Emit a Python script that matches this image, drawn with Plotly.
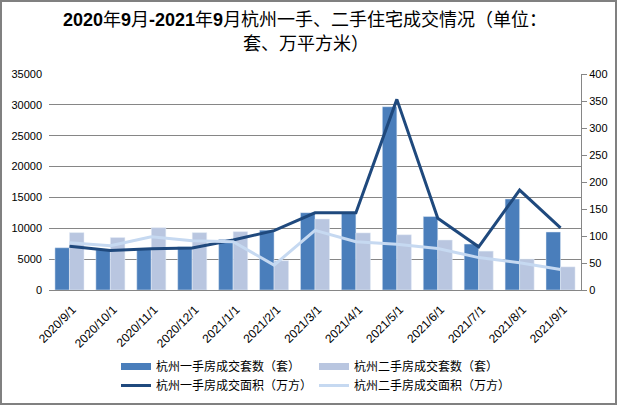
import plotly.graph_objects as go

months = ["2020/9/1", "2020/10/1", "2020/11/1", "2020/12/1", "2021/1/1", "2021/2/1",
          "2021/3/1", "2021/4/1", "2021/5/1", "2021/6/1", "2021/7/1", "2021/8/1", "2021/9/1"]
new_units = [6850, 6500, 6600, 7000, 8200, 9700, 12530, 12600, 29700, 11900, 7450, 14750, 9400]
second_units = [9300, 8500, 10100, 9300, 9450, 4750, 11500, 9250, 8950, 8100, 6300, 5000, 3750]
new_area = [81, 73, 76.5, 78, 92.6, 110, 143, 143, 353, 133, 80, 185, 115]
second_area = [87.6, 82, 98.7, 91, 89.5, 46, 110.5, 89.5, 84.6, 77, 60, 50.6, 38]

names = ["杭州一手房成交套数（套）", "杭州二手房成交套数（套）",
         "杭州一手房成交面积（万方）", "杭州二手房成交面积（万方）"]
title1 = "<b>2020</b>年<b>9</b>月<b>-2021</b>年<b>9</b>月杭州一手、二手住宅成交情况（单位："
title2 = "套、万平方米）"

C_NEW_BAR = "#4A7EBB"
C_SEC_BAR = "#B9C6E0"
C_NEW_LINE = "#1F497D"
C_SEC_LINE = "#C6D9F1"
GRID = "#868686"
FONT = "Liberation Sans, Noto Sans CJK SC, sans-serif"
CJK = "Noto Sans CJK SC, sans-serif"
TITLE_FONT = "Liberation Sans, Noto Sans CJK SC, sans-serif"

W, H = 618, 406
L, R, T, B = 49, 37, 74, 116
pw, ph = W - L - R, H - T - B


def px_x(x):
    return (x - L) / pw


def px_y(y):
    return (H - B - y) / ph


fig = go.Figure()
fig.add_trace(go.Bar(x=months, y=new_units, marker_color=C_NEW_BAR, name=names[0],
                     showlegend=False))
fig.add_trace(go.Bar(x=months, y=second_units, marker_color=C_SEC_BAR, name=names[1],
                     showlegend=False))
fig.add_trace(go.Scatter(x=months, y=new_area, mode="lines", yaxis="y2",
                         line=dict(color=C_NEW_LINE, width=3), name=names[2],
                         showlegend=False))
fig.add_trace(go.Scatter(x=months, y=second_area, mode="lines", yaxis="y2",
                         line=dict(color=C_SEC_LINE, width=3), name=names[3],
                         showlegend=False))

# legend entries (bar swatches drawn as thick short lines like the original)
fig.add_trace(go.Scatter(x=[None], y=[None], mode="lines", name=names[0],
                         line=dict(color=C_NEW_BAR, width=7), legend="legend"))
fig.add_trace(go.Scatter(x=[None], y=[None], mode="lines", name=names[1],
                         line=dict(color=C_SEC_BAR, width=7), legend="legend"))
fig.add_trace(go.Scatter(x=[None], y=[None], mode="lines", name=names[2],
                         line=dict(color=C_NEW_LINE, width=3), legend="legend2"))
fig.add_trace(go.Scatter(x=[None], y=[None], mode="lines", name=names[3],
                         line=dict(color=C_SEC_LINE, width=3), legend="legend2"))

legend_common = dict(orientation="h", xanchor="left", yanchor="middle",
                     font=dict(family=CJK, size=12, color="#000"),
                     entrywidth=153, entrywidthmode="pixels",
                     bgcolor="rgba(0,0,0,0)", tracegroupgap=0)

fig.update_layout(
    width=W, height=H,
    margin=dict(l=L, r=R, t=T, b=B, autoexpand=False),
    paper_bgcolor="white", plot_bgcolor="white",
    barmode="group", bargap=0.29, bargroupgap=0,
    font=dict(family=FONT, size=11, color="#000"),
    xaxis=dict(type="category", tickangle=-45, showgrid=False,
               showline=True, linecolor=GRID, linewidth=1, ticks="",
               ticklabelstandoff=7, ticklabelshift=3,
               tickfont=dict(family=FONT, size=12, color="#000")),
    yaxis=dict(range=[0, 35000], dtick=5000, tickformat="d", showgrid=True,
               gridcolor=GRID, gridwidth=1, zeroline=False, showline=False,
               ticks="", ticklabelstandoff=6, tickfont=dict(size=11, color="#000")),
    yaxis2=dict(range=[0, 400], dtick=50, tickformat="d", overlaying="y", side="right",
                showgrid=False, zeroline=False, showline=True, linecolor=GRID,
                linewidth=1, ticks="outside", ticklen=5, tickcolor=GRID,
                tickfont=dict(size=11, color="#000")),
    legend=dict(x=px_x(116), y=px_y(366.5), **legend_common),
    legend2=dict(x=px_x(116), y=px_y(385.5), **legend_common),
    annotations=[
        dict(text=title1, x=px_x(305), y=px_y(20), xref="paper", yref="paper",
             showarrow=False, xanchor="center", yanchor="middle",
             font=dict(family=TITLE_FONT, size=18, color="#000")),
        dict(text=title2, x=px_x(306), y=px_y(44), xref="paper", yref="paper",
             showarrow=False, xanchor="center", yanchor="middle",
             font=dict(family=TITLE_FONT, size=18, color="#000")),
    ],
    shapes=[dict(type="rect", xref="paper", yref="paper",
                 x0=px_x(1), x1=px_x(616),
                 y0=px_y(404), y1=px_y(1),
                 line=dict(color="#808080", width=2), layer="above")],
)

fig.write_html("out.html")
